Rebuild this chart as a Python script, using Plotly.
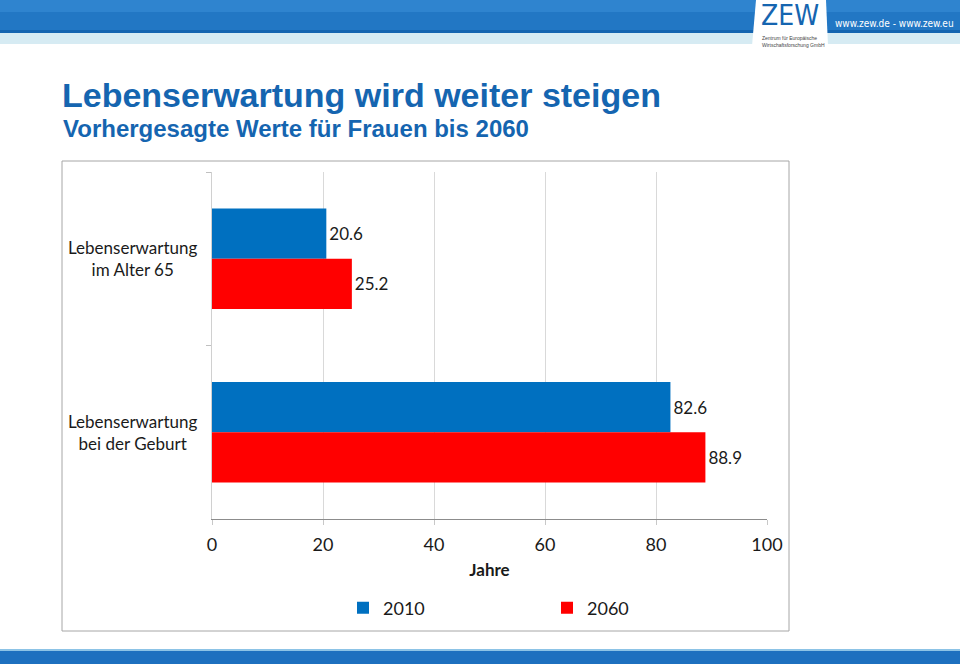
import plotly.graph_objects as go

categories = ["Lebenserwartung<br>im Alter 65", "Lebenserwartung<br>bei der Geburt"]
series_names = ["2010", "2060"]
values_2010 = [20.6, 82.6]
values_2060 = [25.2, 88.9]
x_ticks = [0, 20, 40, 60, 80, 100]

W, H = 960, 664
L, R, T, B = 212, 767, 172, 519  # plot area in px


def px(x):
    return (x - L) / (R - L)


def py(y):
    return (B - y) / (B - T)


FONT = "Lato, Open Sans, sans-serif"
fig = go.Figure()
for name, vals, col in [(series_names[0], values_2010, "#0070c0"),
                        (series_names[1], values_2060, "#ff0000")]:
    fig.add_trace(go.Bar(
        y=categories, x=vals, name=name, orientation="h",
        marker=dict(color=col, line=dict(width=0)),
        text=[f"{v:.1f}" for v in vals], textposition="outside",
        textfont=dict(size=17, color="#1a1a1a", family=FONT),
        cliponaxis=False,
    ))

shapes = []
# header stripes
shapes.append(dict(type="rect", xref="paper", yref="paper", x0=px(0), x1=px(960),
                   y0=py(0), y1=py(33), fillcolor="#2277c4", line=dict(width=0), layer="below"))
shapes.append(dict(type="rect", xref="paper", yref="paper", x0=px(0), x1=px(960),
                   y0=py(0), y1=py(12), fillcolor="#2f84cf", line=dict(width=0), layer="below"))
shapes.append(dict(type="rect", xref="paper", yref="paper", x0=px(0), x1=px(960),
                   y0=py(30), y1=py(33), fillcolor="#1565b0", line=dict(width=0), layer="below"))
shapes.append(dict(type="rect", xref="paper", yref="paper", x0=px(0), x1=px(960),
                   y0=py(33), y1=py(44), fillcolor="#d6ebf3", line=dict(width=0), layer="below"))
# logo box
shapes.append(dict(type="path", xref="paper", yref="paper",
                   path=f"M{px(756)},{py(0)} L{px(826)},{py(0)} L{px(828)},{py(46)} L{px(752)},{py(46)} Z",
                   fillcolor="white", line=dict(width=0), layer="below"))
# bottom banner
shapes.append(dict(type="rect", xref="paper", yref="paper", x0=px(0), x1=px(960),
                   y0=py(649), y1=py(664), fillcolor="#1d70bf", line=dict(width=0), layer="below"))
shapes.append(dict(type="rect", xref="paper", yref="paper", x0=px(0), x1=px(960),
                   y0=py(649), y1=py(651), fillcolor="#8cc3e6", line=dict(width=0), layer="below"))
# chart box
shapes.append(dict(type="rect", xref="paper", yref="paper", x0=px(62), x1=px(789),
                   y0=py(161), y1=py(631), fillcolor="rgba(0,0,0,0)",
                   line=dict(color="#a6a6a6", width=1), layer="below"))

annotations = [
    dict(text="<b>Lebenserwartung wird weiter steigen</b>", xref="paper", yref="paper",
         x=px(60), y=py(95), xanchor="left", yanchor="middle", showarrow=False,
         font=dict(family="Liberation Sans, Arial, sans-serif", size=34, color="#1565b0")),
    dict(text="<b>Vorhergesagte Werte für Frauen bis 2060</b>", xref="paper", yref="paper",
         x=px(61), y=py(128), xanchor="left", yanchor="middle", showarrow=False,
         font=dict(family="Liberation Sans, Arial, sans-serif", size=24, color="#1565b0")),
    dict(text="ZEW", xref="paper", yref="paper", x=px(790), y=py(15), xanchor="center",
         yanchor="middle", showarrow=False,
         font=dict(family="DejaVu Sans Condensed, Liberation Sans Narrow, sans-serif", size=28, color="#1565b0")),
    dict(text="Zentrum für Europäische<br>Wirtschaftsforschung GmbH", xref="paper", yref="paper",
         x=px(760), y=py(41), xanchor="left", yanchor="middle", showarrow=False, align="left",
         font=dict(family="Liberation Sans, sans-serif", size=5, color="#444444")),
    dict(text="www.zew.de - www.zew.eu", xref="paper", yref="paper", x=px(894), y=py(23),
         xanchor="center", yanchor="middle", showarrow=False,
         font=dict(family="DejaVu Sans Condensed, Liberation Sans Narrow, sans-serif", size=10, color="white")),
]
for c in categories:
    annotations.append(dict(text=c, xref="paper", yref="y", x=px(200), y=c,
                            xanchor="right", yanchor="middle", align="center", showarrow=False,
                            font=dict(family=FONT, size=17, color="#1a1a1a")))

fig.update_layout(
    width=W, height=H,
    margin=dict(l=L, r=W - R, t=T, b=H - B, pad=0),
    paper_bgcolor="white", plot_bgcolor="white",
    barmode="group", bargap=0.42, bargroupgap=0,
    showlegend=True,
    legend=dict(orientation="h", x=px(343), xanchor="left", y=py(608), yanchor="middle",
                entrywidth=159, entrywidthmode="pixels", traceorder="normal",
                font=dict(family=FONT, size=18, color="#1a1a1a")),
    xaxis=dict(range=[0, 100], tickvals=x_ticks, showgrid=True, gridcolor="#d9d9d9",
               gridwidth=1, zeroline=False, showline=True, linecolor="#8c8c8c", linewidth=1,
               ticks="outside", ticklen=5, tickcolor="#c8c8c8", ticklabelstandoff=4,
               tickfont=dict(family=FONT, size=18, color="#1a1a1a"),
               title=dict(text="<b>Jahre</b>", standoff=10,
                          font=dict(family=FONT, size=17, color="#1a1a1a"))),
    yaxis=dict(autorange="reversed", showticklabels=False, showgrid=False, zeroline=False,
               showline=True, linecolor="#d0d0d0", linewidth=1, ticks="outside",
               tickson="boundaries", ticklen=5, tickcolor="#c0c0c0"),
    shapes=shapes, annotations=annotations,
    font=dict(family=FONT),
)

fig.write_html("out.html", config={"displayModeBar": False},
               post_script="document.body.style.margin='0';document.body.style.padding='0';")
